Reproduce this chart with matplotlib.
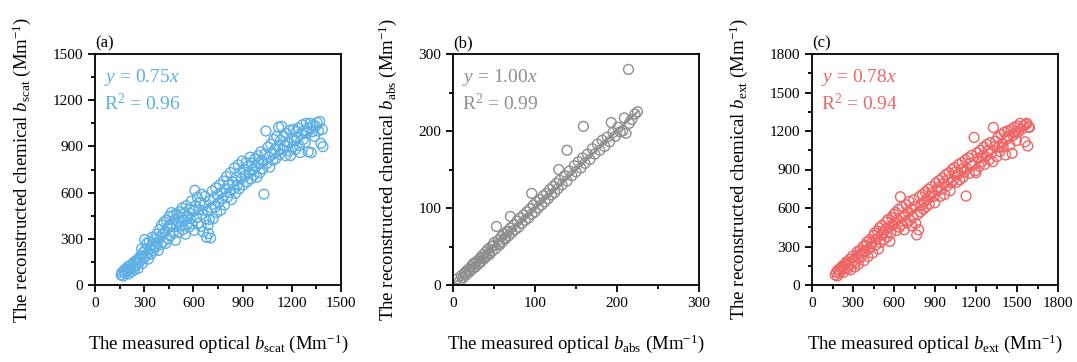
import matplotlib.pyplot as plt
from matplotlib.ticker import MultipleLocator

plt.rcParams['font.family'] = 'Liberation Serif'
plt.rcParams['mathtext.fontset'] = 'custom'
plt.rcParams['mathtext.rm'] = 'Liberation Serif'
plt.rcParams['mathtext.it'] = 'Liberation Serif:italic'

# (a) scattering
xa = [160, 165, 172, 178, 183, 188, 195, 200, 205, 212, 218, 222, 230, 236, 240, 246, 252, 258, 263, 268,
      272, 278, 284, 288, 293, 298, 303, 306, 311, 316, 320, 325, 331, 336, 341, 346, 350, 355, 360, 366,
      371, 376, 380, 386, 392, 397, 402, 406, 411, 416, 421, 426, 431, 436, 441, 446, 451, 456, 461, 466,
      470, 476, 481, 486, 491, 496, 501, 506, 511, 516, 521, 527, 532, 537, 542, 547, 552, 557, 562, 567,
      573, 578, 583, 588, 593, 599, 604, 609, 614, 619, 624, 629, 634, 639, 645, 650, 655, 660, 665, 670,
      675, 680, 685, 690, 693, 697, 700, 705, 710, 715, 720, 725, 731, 737, 742, 748, 754, 760, 766, 772,
      778, 784, 790, 796, 802, 808, 814, 820, 826, 832, 838, 844, 850, 856, 862, 868, 874, 880, 886, 892,
      898, 904, 910, 916, 922, 928, 934, 940, 946, 952, 958, 964, 970, 976, 982, 988, 994, 1000, 1006, 1012,
      1018, 1024, 1030, 1036, 1042, 1048, 1054, 1060, 1066, 1072, 1078, 1084, 1090, 1096, 1102, 1108, 1114, 1120, 1126, 1132,
      1138, 1144, 1150, 1156, 1162, 1168, 1174, 1180, 1186, 1192, 1198, 1204, 1210, 1216, 1222, 1228, 1234, 1240, 1246, 1252,
      1258, 1264, 1270, 1276, 1282, 1288, 1294, 1300, 1306, 1312, 1318, 1324, 1330, 1338, 1346, 1354, 1362, 1370, 1378, 1386,
      1390]
ya = [65, 82, 58, 92, 75, 100, 88, 118, 72, 104, 128, 86, 112, 148, 98, 122, 160, 142, 108, 172,
      150, 190, 235, 140, 210, 175, 295, 228, 190, 270, 205, 168, 280, 236, 200, 262, 310, 222, 250, 300,
      250, 330, 270, 225, 360, 310, 262, 390, 330, 280, 410, 345, 270, 420, 370, 300, 445, 385, 320, 470,
      395, 340, 455, 425, 290, 380, 460, 410, 340, 475, 385, 440, 500, 360, 420, 470, 330, 515, 395, 445,
      375, 495, 430, 545, 395, 480, 355, 615, 515, 440, 570, 400, 490, 535, 380, 590, 460, 345, 520, 575,
      430, 310, 480, 390, 335, 425, 545, 305, 500, 610, 430, 565, 505, 630, 470, 585, 535, 650, 485, 600,
      560, 675, 520, 625, 705, 570, 650, 600, 730, 555, 670, 625, 760, 595, 700, 650, 780, 625, 730, 690,
      805, 650, 750, 710, 795, 670, 775, 725, 830, 690, 790, 750, 715, 820, 770, 700, 840, 790, 730, 865,
      810, 755, 590, 850, 1000, 790, 895, 830, 765, 915, 860, 810, 945, 880, 820, 965, 900, 1025, 850, 940,
      1030, 880, 965, 905, 840, 985, 925, 870, 1005, 840, 955, 895, 1010, 935, 880, 995, 955, 1020, 905, 860,
      985, 1040, 945, 1005, 925, 1050, 985, 865, 1020, 1050, 860, 995, 1040, 965, 1030, 1055, 1000, 1062, 920, 1010,
      898]

# (b) absorption
xb = [5, 8, 10, 12, 14, 16, 18, 20, 22, 24, 25, 27, 29, 31, 33, 34, 36, 38, 40, 41,
      43, 45, 47, 48, 50, 52, 53, 55, 57, 59, 60, 62, 64, 66, 68, 70, 70, 72, 74, 76,
      78, 80, 82, 84, 86, 88, 90, 92, 94, 96, 96, 98, 100, 102, 104, 106, 108, 110, 112, 114,
      116, 118, 120, 122, 124, 126, 129, 128, 130, 133, 136, 139, 139, 142, 145, 148, 150, 153, 156, 159,
      158, 161, 164, 167, 170, 173, 176, 179, 182, 185, 188, 191, 193, 195, 198, 201, 204, 207, 209, 211,
      214, 215, 218, 222, 225, 15, 21, 26, 32, 37, 44, 49, 56, 63, 67]
yb = [8, 5, 12, 9, 15, 13, 20, 17, 24, 21, 28, 23, 31, 27, 35, 30, 39, 34, 43, 37,
      47, 40, 50, 44, 55, 47, 76, 58, 52, 63, 56, 66, 60, 70, 64, 89, 74, 68, 78, 72,
      83, 75, 87, 80, 91, 84, 95, 87, 99, 119, 92, 104, 95, 108, 100, 111, 104, 116, 108, 119,
      112, 124, 117, 128, 120, 132, 150, 125, 136, 130, 142, 175, 135, 148, 142, 155, 147, 160, 152, 206,
      165, 158, 170, 163, 177, 170, 183, 175, 188, 180, 192, 186, 211, 198, 193, 205, 199, 200, 217, 197,
      280, 210, 215, 222, 225, 17, 19, 27, 30, 36, 42, 51, 54, 61, 69]

# (c) extinction
xc = [170, 178, 185, 192, 200, 208, 215, 222, 230, 238, 245, 252, 260, 268, 275, 282, 290, 297, 304, 311,
      318, 325, 332, 339, 346, 353, 360, 367, 374, 381, 388, 395, 402, 409, 416, 423, 430, 437, 444, 451,
      458, 465, 472, 479, 486, 493, 500, 507, 514, 521, 528, 535, 542, 549, 556, 563, 570, 577, 584, 591,
      598, 605, 612, 619, 626, 633, 640, 647, 654, 661, 668, 675, 682, 689, 696, 703, 710, 717, 724, 731,
      738, 745, 752, 759, 766, 773, 780, 787, 794, 801, 808, 815, 822, 829, 836, 843, 850, 858, 866, 874,
      882, 890, 898, 906, 914, 922, 930, 938, 946, 954, 962, 970, 978, 986, 994, 1002, 1010, 1018, 1026, 1034,
      1042, 1050, 1058, 1066, 1074, 1082, 1090, 1098, 1106, 1114, 1122, 1127, 1135, 1143, 1151, 1159, 1167, 1175, 1186, 1194,
      1200, 1208, 1216, 1224, 1232, 1240, 1248, 1256, 1264, 1272, 1280, 1288, 1296, 1304, 1312, 1323, 1327, 1335, 1343, 1351,
      1359, 1367, 1375, 1383, 1391, 1399, 1407, 1416, 1424, 1432, 1440, 1448, 1456, 1464, 1472, 1480, 1488, 1496, 1504, 1512,
      1523, 1535, 1547, 1559, 1565, 1572, 1579, 1585, 1591]
yc = [78, 100, 70, 120, 92, 110, 135, 150, 98, 125, 165, 180, 128, 150, 200, 118, 168, 225, 190, 140,
      175, 230, 260, 160, 210, 270, 245, 225, 300, 190, 260, 310, 335, 220, 280, 355, 300, 330, 250, 385,
      405, 310, 360, 420, 280, 445, 330, 390, 465, 410, 355, 430, 490, 375, 510, 450, 340, 405, 525, 465,
      550, 485, 565, 425, 510, 590, 450, 688, 470, 610, 530, 430, 545, 625, 485, 570, 650, 505, 590, 460,
      530, 665, 610, 480, 390, 550, 430, 690, 570, 625, 705, 590, 650, 725, 610, 665, 745, 630, 690, 765,
      720, 690, 640, 795, 735, 760, 815, 690, 745, 835, 790, 705, 860, 770, 820, 875, 735, 795, 900, 815,
      915, 880, 800, 860, 940, 820, 900, 955, 840, 880, 975, 693, 905, 990, 870, 950, 1010, 930, 1150, 890,
      875, 1030, 990, 925, 1050, 960, 1005, 1075, 940, 1000, 1095, 1045, 975, 1110, 1030, 960, 1228, 1080, 1120, 1000,
      1150, 1080, 1040, 1170, 1100, 1075, 1190, 1013, 1135, 1200, 1160, 1090, 1210, 1026, 1165, 1230, 1185, 1125, 1240, 1195,
      1260, 1215, 1240, 1116, 1250, 1260, 1083, 1230, 1228]

slopes = [0.75, 1.00, 0.78]
r2 = [0.96, 0.99, 0.94]
names = ['scat', 'abs', 'ext']
labels = ['(a)', '(b)', '(c)']
limits = [1500, 300, 1800]
majors = [300, 100, 300]
colors = ['#5DAFE4', '#8E8E8E', '#EF6566']

fig = plt.figure(figsize=(10.77, 3.62), dpi=100)
lefts = [95, 453, 812]
data = [(xa, ya), (xb, yb), (xc, yc)]

for i in range(3):
    ax = fig.add_axes([lefts[i] / 1077, (362 - 285) / 362, 246 / 1077, 231 / 362])
    x, y = data[i]
    c = colors[i]
    ax.scatter(x, y, s=50, facecolors='none', edgecolors=c, linewidths=1.0, zorder=2)
    x0, x1 = min(x), max(x)
    ax.plot([x0, x1], [slopes[i] * x0, slopes[i] * x1], color=c, lw=1.5, zorder=3)
    ax.set_xlim(0, limits[i])
    ax.set_ylim(0, limits[i])
    ax.xaxis.set_major_locator(MultipleLocator(majors[i]))
    ax.yaxis.set_major_locator(MultipleLocator(majors[i]))
    ax.xaxis.set_minor_locator(MultipleLocator(majors[i] / 2))
    ax.yaxis.set_minor_locator(MultipleLocator(majors[i] / 2))
    ax.tick_params(which='major', direction='out', length=5, width=1.3, labelsize=11)
    ax.tick_params(which='minor', direction='out', length=3, width=1.3)
    for s in ax.spines.values():
        s.set_linewidth(1.3)
    nm = names[i]
    ax.set_xlabel('The measured optical $b_{\\mathrm{%s}}$ (Mm$^{-1}$)' % nm, fontsize=13.5, labelpad=16)
    ax.set_ylabel('The reconstructed chemical $b_{\\mathrm{%s}}$ (Mm$^{-1}$)' % nm, fontsize=13.5, labelpad=14)
    ax.text(0.0, 1.01, labels[i], transform=ax.transAxes, fontsize=12, va='bottom', ha='left')
    ax.text(0.035, 0.945, '$y$ = %.2f$x$' % slopes[i], transform=ax.transAxes, fontsize=14,
            color=c, va='top', ha='left')
    ax.text(0.035, 0.83, 'R$^2$ = %.2f' % r2[i], transform=ax.transAxes, fontsize=14,
            color=c, va='top', ha='left')

fig.savefig('out.png', dpi=100)
